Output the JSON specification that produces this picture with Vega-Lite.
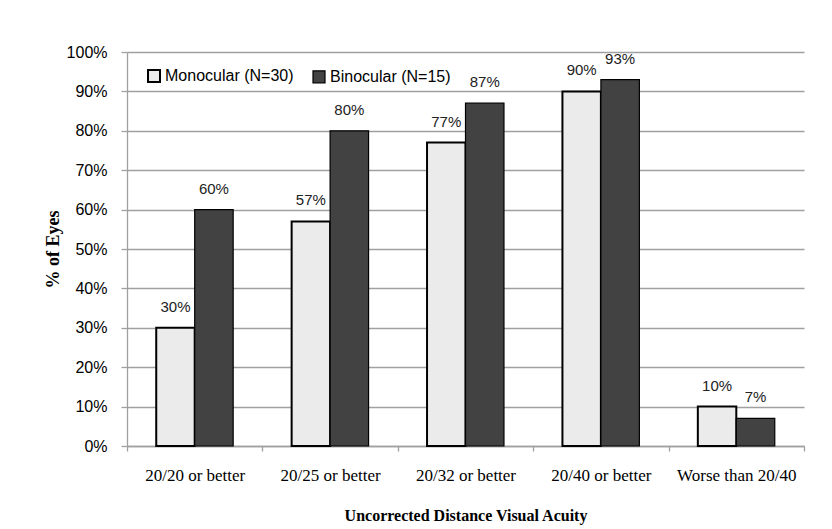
{
  "$schema": "https://vega.github.io/schema/vega-lite/v6.json",
  "width": 677,
  "height": 394,
  "autosize": {"type": "none"},
  "padding": {"left": 127, "top": 52, "right": 28, "bottom": 83},
  "background": "white",
  "config": {
    "view": {"stroke": null},
    "axis": {"labelColor": "#000", "titleColor": "#000"}
  },
  "data": {
    "values": [
      {"cat": "20/20 or better", "series": "Monocular (N=30)", "v": 0.30},
      {"cat": "20/20 or better", "series": "Binocular (N=15)", "v": 0.60},
      {"cat": "20/25 or better", "series": "Monocular (N=30)", "v": 0.57},
      {"cat": "20/25 or better", "series": "Binocular (N=15)", "v": 0.80},
      {"cat": "20/32 or better", "series": "Monocular (N=30)", "v": 0.77},
      {"cat": "20/32 or better", "series": "Binocular (N=15)", "v": 0.87},
      {"cat": "20/40 or better", "series": "Monocular (N=30)", "v": 0.90},
      {"cat": "20/40 or better", "series": "Binocular (N=15)", "v": 0.93},
      {"cat": "Worse than 20/40", "series": "Monocular (N=30)", "v": 0.10},
      {"cat": "Worse than 20/40", "series": "Binocular (N=15)", "v": 0.07}
    ]
  },
  "encoding": {
    "x": {
      "field": "cat",
      "type": "nominal",
      "sort": null,
      "scale": {"paddingInner": 0, "paddingOuter": 0},
      "axis": {
        "title": "Uncorrected Distance Visual Acuity",
        "labelAngle": 0,
        "labelFont": "Liberation Serif",
        "labelFontSize": 17,
        "labelPadding": 16,
        "tickBand": "extent",
        "tickSize": 5,
        "tickColor": "#a0a0a0",
        "tickWidth": 1.3,
        "domainColor": "#a0a0a0",
        "domainWidth": 1.3,
        "titleFont": "Liberation Serif",
        "titleFontSize": 16,
        "titleFontWeight": "bold",
        "titlePadding": 24,
        "grid": false
      }
    },
    "xOffset": {
      "field": "series",
      "type": "nominal",
      "scale": {"domain": ["Monocular (N=30)", "Binocular (N=15)"], "paddingInner": 0, "paddingOuter": 0.76}
    },
    "y": {
      "field": "v",
      "type": "quantitative",
      "scale": {"domain": [0, 1], "nice": false},
      "axis": {
        "title": "% of Eyes",
        "format": ".0%",
        "values": [0, 0.1, 0.2, 0.3, 0.4, 0.5, 0.6, 0.7, 0.8, 0.9, 1],
        "labelOverlap": false,
        "labelFont": "Liberation Sans",
        "labelFontSize": 16,
        "labelPadding": 14,
        "tickSize": 6,
        "tickColor": "#a0a0a0",
        "tickWidth": 1.3,
        "domainColor": "#a0a0a0",
        "domainWidth": 1.3,
        "gridColor": "#a0a0a0",
        "gridWidth": 1.3,
        "titleFont": "Liberation Serif",
        "titleFontSize": 18,
        "titleFontWeight": "bold",
        "titlePadding": 4
      }
    }
  },
  "layer": [
    {
      "mark": {"type": "bar", "stroke": "#000"},
      "encoding": {
        "fill": {
          "field": "series",
          "type": "nominal",
          "scale": {"domain": ["Monocular (N=30)", "Binocular (N=15)"], "range": ["#ebebeb", "#424242"]},
          "legend": {
            "title": null,
            "orient": "none",
            "legendX": 19,
            "legendY": 16,
            "direction": "horizontal",
            "symbolType": "square",
            "symbolSize": 144,
            "symbolStrokeColor": "#000",
            "symbolStrokeWidth": 1.5,
            "symbolOpacity": 1,
            "labelFont": "Liberation Sans",
            "labelFontSize": 16,
            "labelColor": "#000",
            "labelOffset": 3,
            "columnPadding": 16
          }
        },
        "strokeWidth": {
          "field": "series",
          "type": "nominal",
          "scale": {"domain": ["Monocular (N=30)", "Binocular (N=15)"], "range": [2, 1.2]},
          "legend": null
        }
      }
    },
    {
      "mark": {"type": "text", "baseline": "alphabetic", "dy": -16, "font": "Liberation Sans", "fontSize": 15, "color": "#222"},
      "encoding": {
        "text": {"field": "v", "type": "quantitative", "format": ".0%"}
      }
    }
  ]
}
